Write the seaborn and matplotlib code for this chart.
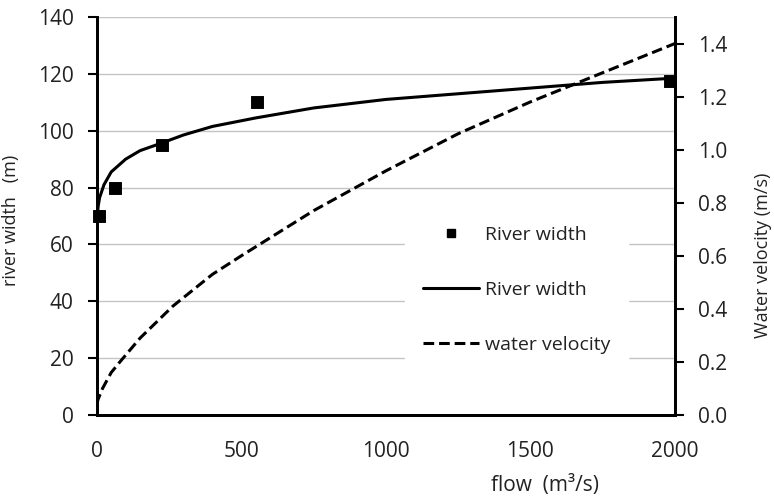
import numpy as np
import pandas as pd
import seaborn as sns
import matplotlib.pyplot as plt
from matplotlib.lines import Line2D

# measured river width points
obs_flow = [7, 62, 225, 553, 1982]
obs_width = [70, 80, 95, 110, 117.5]

# fitted river width curve
fit_flow = [2, 5, 10, 25, 50, 100, 150, 220, 300, 400, 550, 750, 1000, 1250, 1500, 1750, 2000]
fit_width = [70, 73.5, 76.5, 81, 85.5, 90, 93, 95.5, 98.5, 101.5, 104.5, 108, 111, 113, 115, 117, 118.5]

# water velocity curve
vel_flow = [0, 5, 20, 50, 80, 150, 263, 400, 500, 750, 1000, 1250, 1500, 1750, 2000]
vel = [0.04, 0.06, 0.1, 0.16, 0.2, 0.29, 0.41, 0.53, 0.6, 0.77, 0.92, 1.06, 1.18, 1.29, 1.4]

sns.set_style("white")
plt.rcParams['font.family'] = ['Open Sans', 'DejaVu Sans']

obs = pd.DataFrame({"flow": obs_flow, "width": obs_width})
fit = pd.DataFrame({"flow": fit_flow, "width": fit_width})
vdf = pd.DataFrame({"flow": vel_flow, "vel": vel})

dash = (0, (3.5, 1.6))
txt = "#222222"

fig = plt.figure(figsize=(7.74, 5), dpi=100)
ax = fig.add_axes([0.125, 0.17, 0.747, 0.796])
ax2 = ax.twinx()

sns.lineplot(data=fit, x="flow", y="width", ax=ax, color="black", linewidth=2.2)
sns.scatterplot(data=obs, x="flow", y="width", ax=ax, marker="s", s=70,
                color="black", edgecolor="black", zorder=5, clip_on=False)
sns.lineplot(data=vdf, x="flow", y="vel", ax=ax2, color="black", linewidth=2.2,
             linestyle=dash)

ax.set_xlim(0, 2000)
ax.set_ylim(0, 140)
ax2.set_ylim(0, 1.5)
ax.set_xticks([0, 500, 1000, 1500, 2000])
ax.set_yticks(range(0, 141, 20))
ax2.set_yticks(np.arange(0, 1.41, 0.2))
ax2.set_yticklabels([f"{v:.1f}" for v in np.arange(0, 1.41, 0.2)])

ax.yaxis.grid(True, color="#c4c4c4", linewidth=1)
ax.set_axisbelow(True)

for a in (ax, ax2):
    a.spines['top'].set_visible(False)
    for s in ('left', 'right', 'bottom'):
        a.spines[s].set_linewidth(2)
        a.spines[s].set_color("black")
    a.tick_params(direction="out", length=6.5, width=1.5, labelsize=15, color="black",
                  labelcolor=txt, pad=10)
ax.tick_params(axis="x", pad=12)

ax.set_xlabel("flow  (m³/s)", fontsize=15, color=txt)
ax.xaxis.set_label_coords(0.775, -0.152)
ax.set_ylabel("river width   (m)", fontsize=13, color=txt)
ax.yaxis.set_label_coords(-0.132, 0.49)
ax2.set_ylabel("Water velocity (m/s)", fontsize=13, color=txt)
ax2.yaxis.set_label_coords(1.137, 0.40)

handles = [
    Line2D([], [], marker="s", color="black", linestyle="none", markersize=6),
    Line2D([], [], color="black", linewidth=2.2),
    Line2D([], [], color="black", linewidth=2.2, linestyle=dash),
]
labels = ["River width", "River width", "water velocity"]
leg = ax2.legend(handles, labels, loc="center", bbox_to_anchor=(0.726, 0.314),
                 frameon=True, fontsize=14, labelspacing=1.9, handlelength=2.9,
                 handletextpad=0.3, borderpad=0.9, borderaxespad=0,
                 fancybox=False)
leg.get_frame().set_edgecolor("white")
leg.get_frame().set_facecolor("white")
leg.get_frame().set_alpha(1)
for t in leg.get_texts():
    t.set_color(txt)

fig.savefig("out.png", dpi=100)
